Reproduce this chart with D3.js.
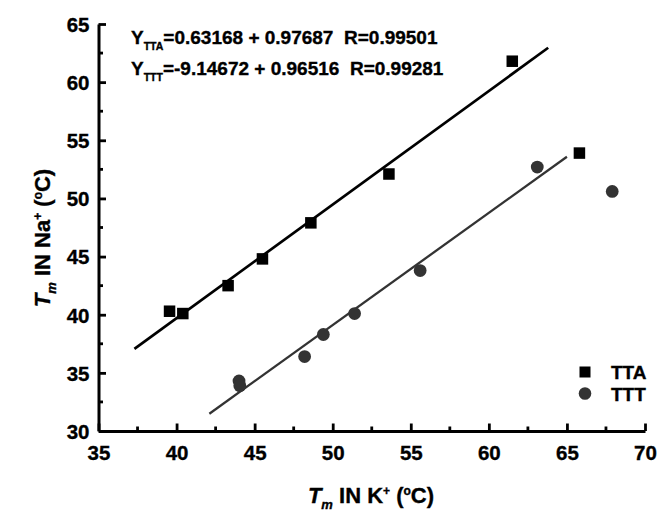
<!DOCTYPE html>
<html>
<head>
<meta charset="utf-8">
<script src="https://cdn.jsdelivr.net/npm/d3@7"></script>
<style>
  html, body { margin: 0; padding: 0; background: #fff; }
  svg { display: block; }
  svg text { font-family: Arial, "Liberation Sans", sans-serif !important; font-weight: 700 !important; fill: #000; stroke: #000; stroke-width: 0.35px; }
</style>
</head>
<body>
<svg id="chart" width="670" height="526"></svg>
<script>
// ---- data ----
const seriesNames = ["TTA", "TTT"];
const ttaX = [39.55, 40.4, 43.3, 45.5, 48.6, 53.6, 61.5, 65.8];
const ttaY = [40.3, 40.1, 42.5, 44.8, 47.9, 52.1, 61.8, 53.9];
const tttX = [44.0, 44.05, 48.2, 49.4, 51.4, 55.6, 63.1, 67.9];
const tttY = [34.3, 33.9, 36.4, 38.3, 40.1, 43.8, 52.7, 50.6];
const fitIntercept = [0.63168, -9.14672];
const fitSlope = [0.97687, 0.96516];
const fitR = ["0.99501", "0.99281"];
const fitXRange = [[37.3, 63.8], [42.1, 65.0]];
const xTicks = [35, 40, 45, 50, 55, 60, 65, 70];
const yTicks = [30, 35, 40, 45, 50, 55, 60, 65];
const xMinor = [37.5, 42.5, 47.5, 52.5, 57.5, 62.5, 67.5];
const yMinor = [32.5, 37.5, 42.5, 47.5, 52.5, 57.5, 62.5];

// ---- layout ----
const svg = d3.select("#chart");
svg.append("rect").attr("width", 670).attr("height", 526).attr("fill", "#fff");
const x = d3.scaleLinear().domain([35, 70]).range([98.5, 645]);
const y = d3.scaleLinear().domain([30, 65]).range([431, 24]);

// fit lines
const lineColors = ["#000", "#333"];
const lineWidths = [2.7, 2.3];
fitXRange.forEach((r, i) => {
  const pts = r.map(v => [v, fitIntercept[i] + fitSlope[i] * v]);
  svg.append("path")
    .attr("d", d3.line().x(d => x(d[0])).y(d => y(d[1]))(pts))
    .attr("stroke", lineColors[i]).attr("stroke-width", lineWidths[i]).attr("fill", "none");
});

// points
const sq = 11.5;
svg.append("g").selectAll("rect").data(d3.zip(ttaX, ttaY)).join("rect")
  .attr("x", d => x(d[0]) - sq / 2).attr("y", d => y(d[1]) - sq / 2)
  .attr("width", sq).attr("height", sq).attr("fill", "#000");
svg.append("g").selectAll("circle").data(d3.zip(tttX, tttY)).join("circle")
  .attr("cx", d => x(d[0])).attr("cy", d => y(d[1])).attr("r", 6.4).attr("fill", "#333");

// axes
const fs = 20.5;
const xAxis = svg.append("g").attr("transform", `translate(0,${y(30)})`)
  .call(d3.axisBottom(x).tickValues(xTicks).tickSizeInner(-7.5).tickSizeOuter(0).tickPadding(14));
const yAxis = svg.append("g").attr("transform", `translate(${x(35)},0)`)
  .call(d3.axisLeft(y).tickValues(yTicks).tickSizeInner(-7.5).tickSizeOuter(0).tickPadding(9));
[xAxis, yAxis].forEach(g => {
  g.attr("font-family", null).attr("font-size", null);
  g.select(".domain").attr("stroke", "#000").attr("stroke-width", 3);
  g.selectAll(".tick line").attr("stroke", "#000").attr("stroke-width", 2.8);
  g.selectAll(".tick text").attr("font-size", fs).attr("fill", "#000");
});
yAxis.selectAll(".tick text").attr("dy", "0.36em");
xAxis.selectAll(".tick text").attr("dy", "0.72em");
// minor ticks
svg.append("g").selectAll("line").data(xMinor).join("line")
  .attr("x1", d => x(d)).attr("x2", d => x(d)).attr("y1", y(30)).attr("y2", y(30) - 4.5)
  .attr("stroke", "#000").attr("stroke-width", 2.8);
svg.append("g").selectAll("line").data(yMinor).join("line")
  .attr("y1", d => y(d)).attr("y2", d => y(d)).attr("x1", x(35)).attr("x2", x(35) + 4.5)
  .attr("stroke", "#000").attr("stroke-width", 2.8);

// axis titles
function axisTitle(sel, ion) {
  sel.attr("font-size", 22).attr("text-anchor", "middle");
  sel.append("tspan").attr("font-style", "italic").text("T");
  sel.append("tspan").attr("font-style", "italic").attr("font-size", 13).attr("dy", 6).text("m");
  sel.append("tspan").attr("dy", -6).text(" IN " + ion);
  sel.append("tspan").attr("font-size", 12).attr("dy", -8).text("+");
  sel.append("tspan").attr("dy", 8).text(" (");
  sel.append("tspan").attr("font-size", 12).attr("dy", -8).text("o");
  sel.append("tspan").attr("dy", 8).text("C)");
}
svg.append("text").attr("x", 371).attr("y", 503).call(axisTitle, "K");
svg.append("text").attr("transform", "translate(50,238) rotate(-90)").call(axisTitle, "Na");

// equations
seriesNames.forEach((name, i) => {
  const t = svg.append("text").attr("x", 131).attr("y", 44 + i * 31)
    .attr("font-size", 19).style("white-space", "pre");
  t.append("tspan").text("Y");
  t.append("tspan").attr("font-size", 10.5).attr("dy", 6).text(name);
  t.append("tspan").attr("dy", -6)
    .text("=" + fitIntercept[i].toFixed(5) + " + " + fitSlope[i].toFixed(5) + "  R=" + fitR[i]);
});

// legend
const leg = svg.append("g");
leg.append("rect").attr("x", 585 - 5.5).attr("y", 372 - 5.5).attr("width", 11).attr("height", 11).attr("fill", "#000");
leg.append("circle").attr("cx", 585).attr("cy", 393.5).attr("r", 6.3).attr("fill", "#333");
seriesNames.forEach((name, i) => {
  leg.append("text").attr("x", 611).attr("y", 379 + i * 21.5).attr("font-size", 19).text(name);
});
</script>
</body>
</html>
